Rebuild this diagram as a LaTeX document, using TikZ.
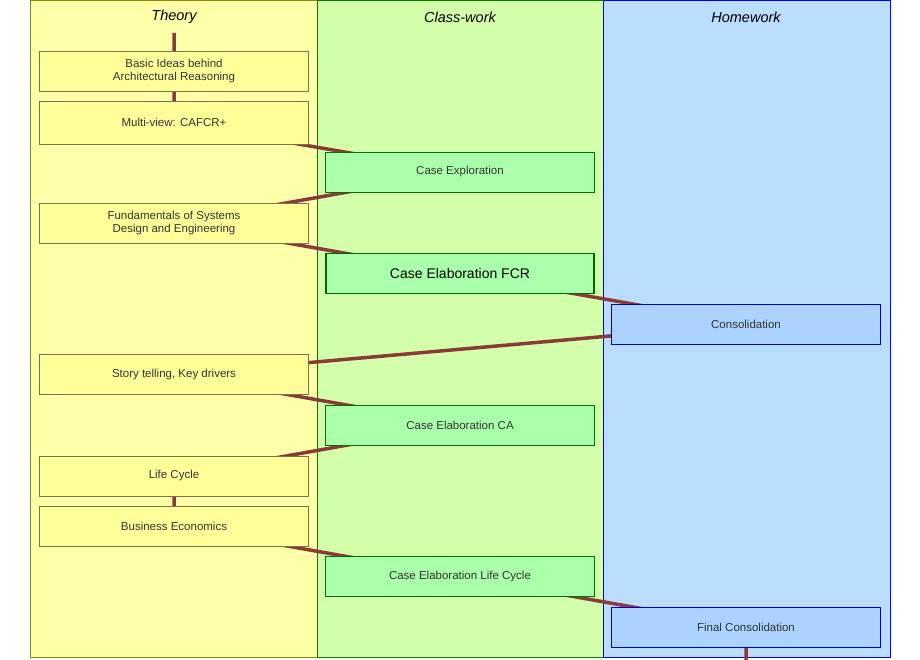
\documentclass[tikz,border=0pt]{standalone}
\usepackage{fontspec}
\setmainfont{Liberation Sans}
\pgfdeclarelayer{back}\pgfdeclarelayer{mid}
\pgfsetlayers{back,mid,main}
\definecolor{thy}{HTML}{FFFFAA}
\definecolor{cwg}{HTML}{D4FFAA}
\definecolor{hwb}{HTML}{BBDDFF}
\definecolor{byel}{HTML}{FFFF99}
\definecolor{bgrn}{HTML}{AAFFAA}
\definecolor{bblu}{HTML}{AAD4FF}
\definecolor{conn}{HTML}{8B3A3A}
\definecolor{txt}{HTML}{333333}
\tikzset{
 x=1pt,y=-1pt,
 box/.style={draw, minimum width=269pt, minimum height=40pt, inner sep=0pt, align=center, font=\fontsize{11.5}{13.5}\selectfont, text=txt, line width=0.6pt},
 th/.style={box, fill=byel, draw=black!50!yellow!80!black},
 cw/.style={box, fill=bgrn, draw=green!45!black},
 hw/.style={box, fill=bblu, draw=blue!80!black},
 col/.style={line width=0.6pt},
 hd/.style={font=\fontsize{14.5}{16}\selectfont\itshape, text=black},
 cn/.style={conn, line width=3.5pt}
}
\begin{document}
\begin{tikzpicture}
\useasboundingbox (0,0) rectangle (920,660);
\begin{pgfonlayer}{back}
\fill[white] (0,0) rectangle (920,660);
\draw[col, fill=thy, draw=olive] (30,0) rectangle (317,657);
\draw[col, fill=cwg, draw=green!50!black] (317,0) rectangle (603,657);
\draw[col, fill=hwb, draw=blue] (603,0) rectangle (890,657);
\end{pgfonlayer}
\node[hd] (h1) at (174,17) {Theory};
\node[hd] (h2) at (460,17) {Class-work};
\node[hd] (h3) at (746,17) {Homework};
\coordinate (top) at (174,33);
\coordinate (bot) at (746,660);
\node[th] (basic) at (174,71) {Basic Ideas behind\\Architectural Reasoning};
\node[th, minimum height=43pt] (multi) at (174,122.5) {Multi-view: CAFCR+};
\node[cw] (cexp) at (460,172) {Case Exploration};
\node[th] (fund) at (174,223) {Fundamentals of Systems\\Design and Engineering};
\node[cw, draw=green!40!black, line width=1.8pt, minimum width=268pt, font=\fontsize{14}{16}\selectfont, text=black] (fcr) at (460,273.5) {Case Elaboration FCR};
\node[hw] (cons) at (746,324) {Consolidation};
\node[th] (story) at (174,374.5) {Story telling, Key drivers};
\node[cw] (ca) at (460,425) {Case Elaboration CA};
\node[th] (life) at (174,476) {Life Cycle};
\node[th] (bus) at (174,526) {Business Economics};
\node[cw] (clc) at (460,576.5) {Case Elaboration Life Cycle};
\node[hw] (fin) at (746,627) {Final Consolidation};
\begin{pgfonlayer}{mid}
\draw[cn] (top) -- (basic.center) -- (multi.center) -- (cexp.center) -- (fund.center) -- (fcr.center) -- (cons.center) -- (story.center) -- (ca.center) -- (life.center) -- (bus.center) -- (clc.center) -- (fin.center) -- (bot);
\end{pgfonlayer}
\end{tikzpicture}
\end{document}
